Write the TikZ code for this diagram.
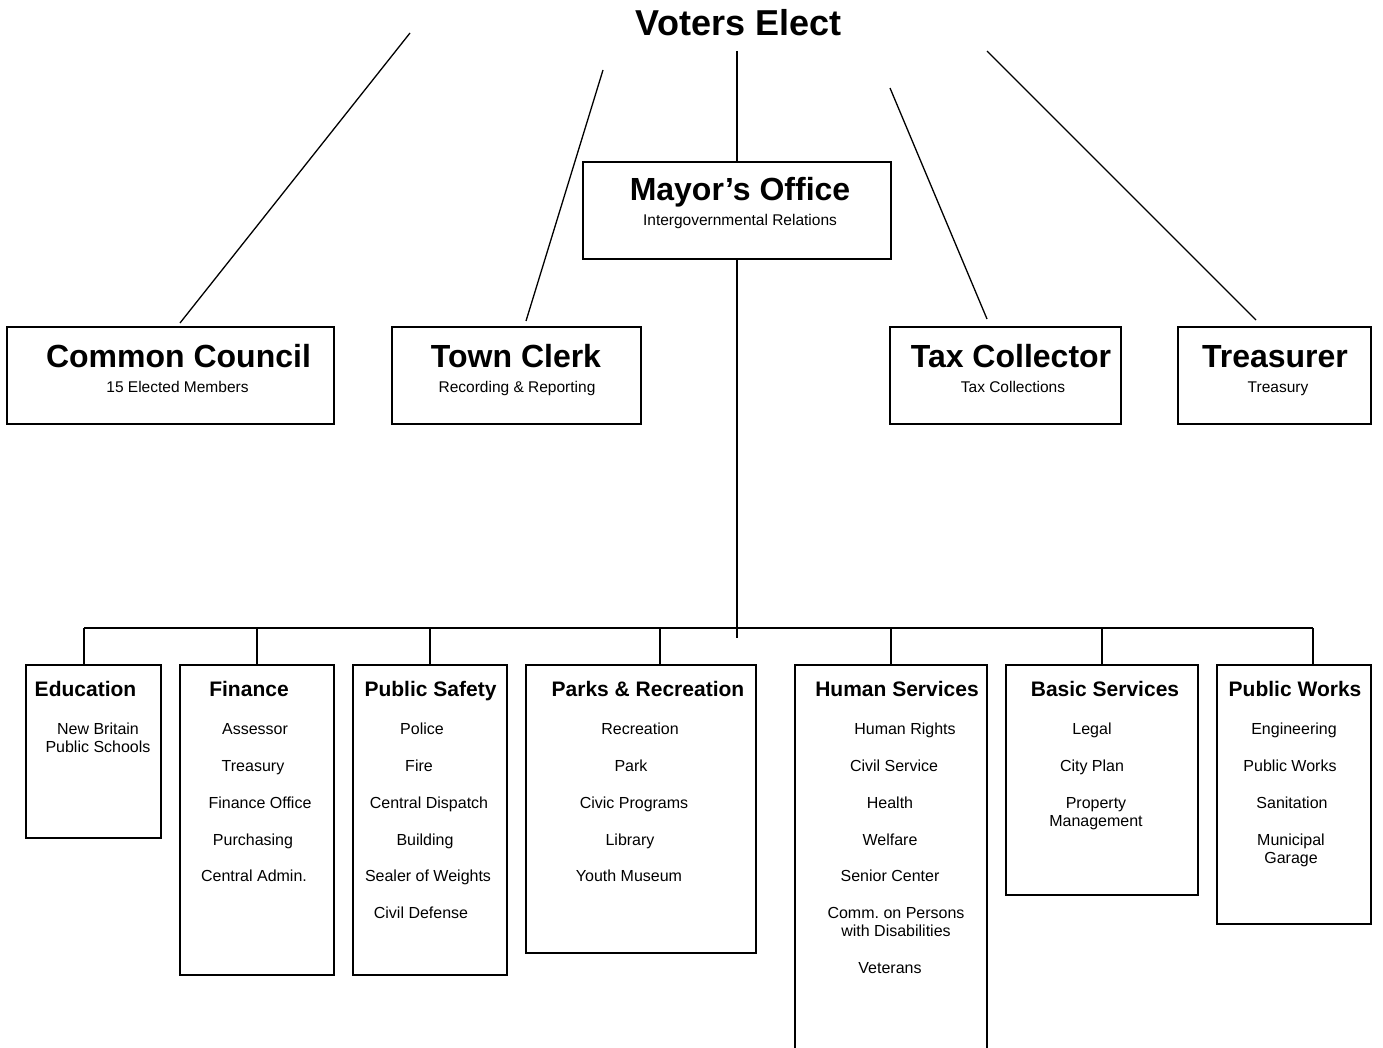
\documentclass[tikz,border=0pt]{standalone}
\usepackage{fontspec}
\setmainfont{Liberation Sans}
\frenchspacing
\begin{document}
\begin{tikzpicture}[x=1pt,y=-1pt,
  box/.style={draw, line width=1.3pt, inner sep=0pt},
  conn/.style={line width=1.3pt},
  bigtitle/.style={font=\fontsize{32}{36}\selectfont\bfseries, inner sep=0pt, anchor=base},
  subt/.style={font=\fontsize{15.5}{18}\selectfont, inner sep=0pt, anchor=base},
  head/.style={font=\fontsize{21}{24}\selectfont\bfseries, inner sep=0pt, anchor=base},
  item/.style={font=\fontsize{16}{18.5}\selectfont, align=center, inner sep=0pt, anchor=base}]
\useasboundingbox (0,0) rectangle (1383,1048);
\clip (0,0) rectangle (1383,1048);
% top
\node[bigtitle, font=\fontsize{36}{40}\selectfont\bfseries] (ve) at (738.5,36) {Voters Elect};
\node[box, minimum width=308, minimum height=97] (mayor) at (737,210.5) {};
\node[bigtitle] (mayt) at (740,201) {Mayor’s Office};
\node[subt] (mays) at (740,226) {Intergovernmental Relations};

\node[box, minimum width=327, minimum height=97] (cc) at (170.5,375.5) {};
\node[bigtitle] (cct) at (178.5,367) {Common Council};
\node[subt] (ccs) at (177.5,392.5) {15 Elected Members};
\node[box, minimum width=249, minimum height=97] (tc) at (516.5,375.5) {};
\node[bigtitle] (tct) at (516,367) {Town Clerk};
\node[subt] (tcs) at (517,392.5) {Recording \& Reporting};
\node[box, minimum width=231, minimum height=97] (tx) at (1005.5,375.5) {};
\node[bigtitle] (txt) at (1011,367) {Tax Collector};
\node[subt] (txs) at (1013,392.5) {Tax Collections};
\node[box, minimum width=193, minimum height=97] (tr) at (1274.5,375.5) {};
\node[bigtitle] (trt) at (1275,367) {Treasurer};
\node[subt] (trs) at (1278,392.5) {Treasury};

% connectors from voters
\coordinate (a1) at (410,33);  \coordinate (a2) at (180,323);
\coordinate (b1) at (603,70);  \coordinate (b2) at (526,321);
\coordinate (c1) at (737,51);
\coordinate (d1) at (890,88);  \coordinate (d2) at (987,319);
\coordinate (e1) at (987,51);  \coordinate (e2) at (1256,320);
\draw[conn] (a1) -- (a2);
\draw[conn] (b1) -- (b2);
\draw[conn] (c1) -- (mayor.north);
\draw[conn] (d1) -- (d2);
\draw[conn] (e1) -- (e2);

% bottom boxes
\node[box, minimum width=135, minimum height=173] (edu) at (93.5,751.5) {};
\node[box, minimum width=154, minimum height=310] (fin) at (257,820) {};
\node[box, minimum width=154, minimum height=310] (ps) at (430,820) {};
\node[box, minimum width=230, minimum height=288] (parks) at (641,809) {};
\node[box, minimum width=192, minimum height=395] (hs) at (891,862.5) {};
\node[box, minimum width=192, minimum height=230] (bs) at (1102,780) {};
\node[box, minimum width=154, minimum height=259] (pw) at (1294,794.5) {};

% bus
\coordinate (mend) at (737,638);
\coordinate (p1) at (84,628);
\coordinate (p2) at (257,628);
\coordinate (p3) at (430,628);
\coordinate (p4) at (660,628);
\coordinate (p5) at (891,628);
\coordinate (p6) at (1102,628);
\coordinate (p7) at (1313,628);
\draw[conn] (mayor.south) -- (mend);
\draw[conn] (p1) -- (p7);
\draw[conn] (p1) -- (p1 |- edu.north);
\draw[conn] (p2) -- (p2 |- fin.north);
\draw[conn] (p3) -- (p3 |- ps.north);
\draw[conn] (p4) -- (p4 |- parks.north);
\draw[conn] (p5) -- (p5 |- hs.north);
\draw[conn] (p6) -- (p6 |- bs.north);
\draw[conn] (p7) -- (p7 |- pw.north);

% Education
\node[head] (eduh) at (85.5,696) {Education};
\node[item] (edu1) at (98,752.5) {New Britain\\Public Schools};
% Finance
\node[head] (finh) at (249,696) {Finance};
\node[item] (fin1) at (255,734) {Assessor};
\node[item] (fin2) at (253,771) {Treasury};
\node[item] (fin3) at (260,808) {Finance Office};
\node[item] (fin4) at (253,845) {Purchasing};
\node[item] (fin5) at (254,881) {Central Admin.};
% Public Safety
\node[head] (psh) at (430.5,696) {Public Safety};
\node[item] (ps1) at (422,734) {Police};
\node[item] (ps2) at (419,771) {Fire};
\node[item] (ps3) at (429,808) {Central Dispatch};
\node[item] (ps4) at (425,845) {Building};
\node[item] (ps5) at (428,881) {Sealer of Weights};
\node[item] (ps6) at (421,918) {Civil Defense};
% Parks
\node[head] (parksh) at (648,696) {Parks \& Recreation};
\node[item] (pk1) at (640,734) {Recreation};
\node[item] (pk2) at (631,771) {Park};
\node[item] (pk3) at (634,808) {Civic Programs};
\node[item] (pk4) at (630,845) {Library};
\node[item] (pk5) at (629,881) {Youth Museum};
% Human Services
\node[head] (hsh) at (897,696) {Human Services};
\node[item] (hs1) at (905,734) {Human Rights};
\node[item] (hs2) at (894,771) {Civil Service};
\node[item] (hs3) at (890,808) {Health};
\node[item] (hs4) at (890,845) {Welfare};
\node[item] (hs5) at (890,881) {Senior Center};
\node[item] (hs6) at (896,936.5) {Comm. on Persons\\with Disabilities};
\node[item] (hs7) at (890,973) {Veterans};
% Basic Services
\node[head] (bsh) at (1105,696) {Basic Services};
\node[item] (bs1) at (1092,734) {Legal};
\node[item] (bs2) at (1092,771) {City Plan};
\node[item] (bs3) at (1096,826.5) {Property\\Management};
% Public Works
\node[head] (pwh) at (1295,696) {Public Works};
\node[item] (pw1) at (1294,734) {Engineering};
\node[item] (pw2) at (1290,771) {Public Works};
\node[item] (pw3) at (1292,808) {Sanitation};
\node[item] (pw4) at (1291,863.5) {Municipal\\Garage};
\end{tikzpicture}
\end{document}
